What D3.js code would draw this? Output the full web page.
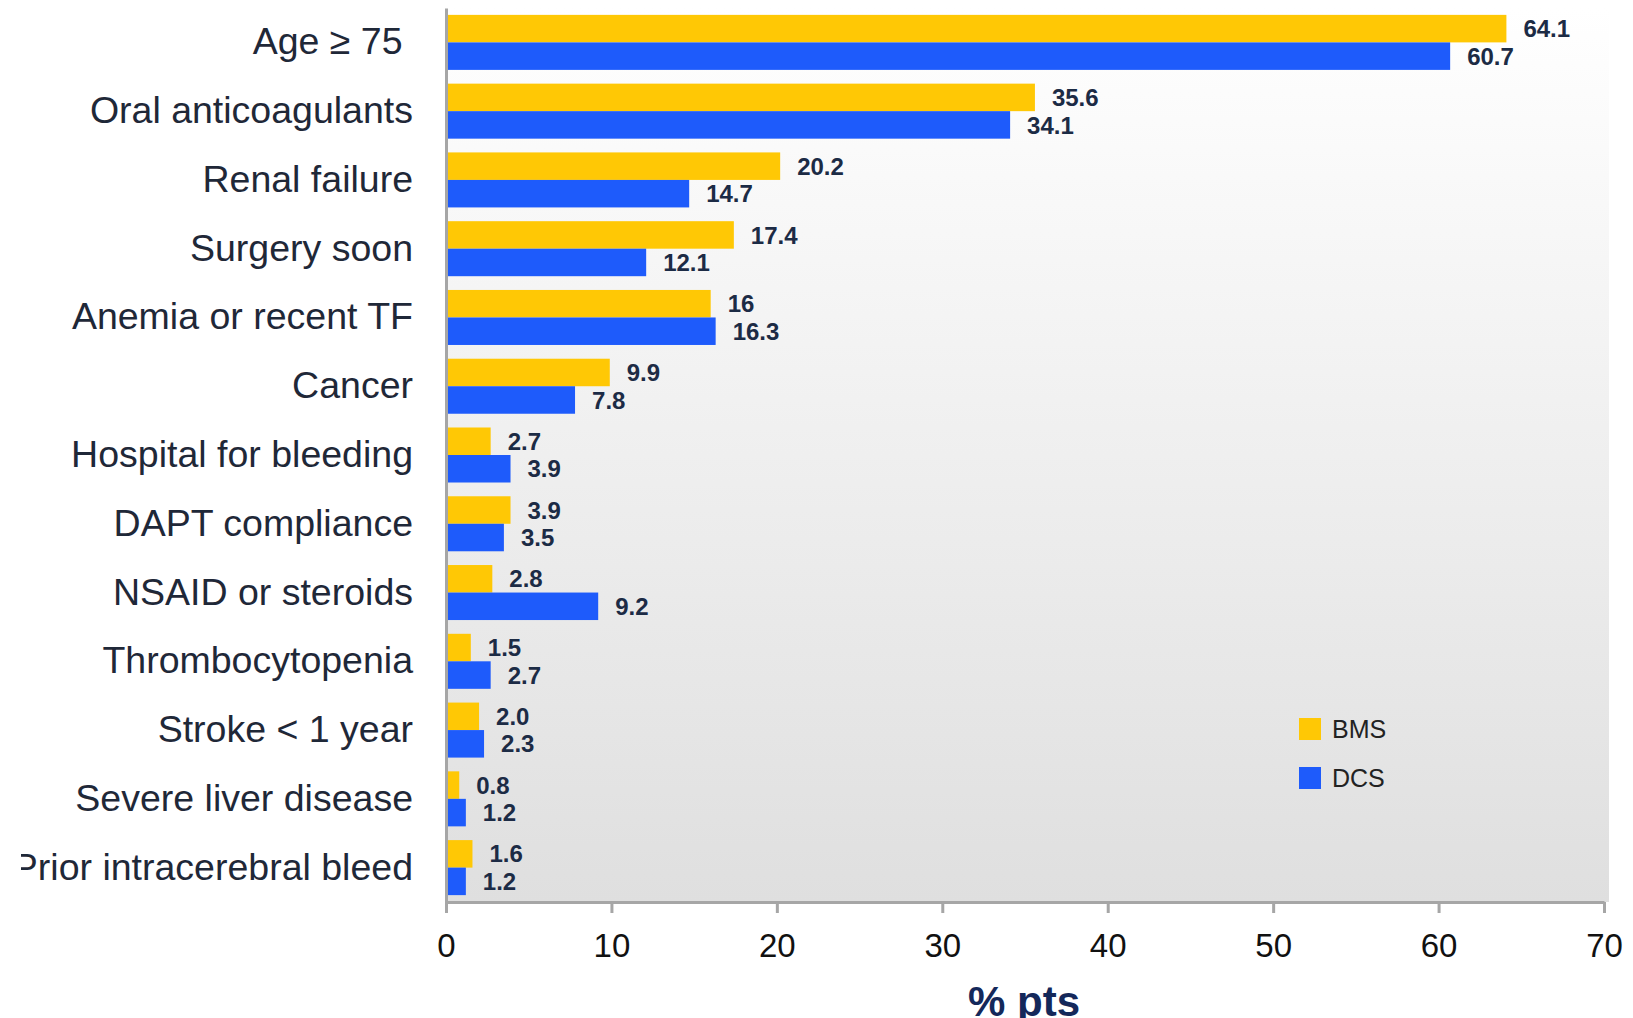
<!DOCTYPE html>
<html>
<head>
<meta charset="utf-8">
<script src="https://cdn.jsdelivr.net/npm/d3@7"></script>
<style>
  html, body { margin: 0; padding: 0; background: #fff; }
  svg { display: block; font-family: "Liberation Sans", Arial, sans-serif; }
</style>
</head>
<body>
<svg id="chart" width="1633" height="1018"></svg>
<script>
var categories = ["Age \u2265 75\u00a0", "Oral anticoagulants", "Renal failure", "Surgery soon",
  "Anemia or recent TF", "Cancer", "Hospital for bleeding", "DAPT compliance",
  "NSAID or steroids", "Thrombocytopenia", "Stroke < 1 year", "Severe liver disease",
  "Prior intracerebral bleed"];
var seriesNames = ["BMS", "DCS"];
var bmsValues = [64.1, 35.6, 20.2, 17.4, 16, 9.9, 2.7, 3.9, 2.8, 1.5, 2.0, 0.8, 1.6];
var dcsValues = [60.7, 34.1, 14.7, 12.1, 16.3, 7.8, 3.9, 3.5, 9.2, 2.7, 2.3, 1.2, 1.2];
var bmsLabels = ["64.1", "35.6", "20.2", "17.4", "16", "9.9", "2.7", "3.9", "2.8", "1.5", "2.0", "0.8", "1.6"];
var dcsLabels = ["60.7", "34.1", "14.7", "12.1", "16.3", "7.8", "3.9", "3.5", "9.2", "2.7", "2.3", "1.2", "1.2"];
var xTicks = [0, 10, 20, 30, 40, 50, 60, 70];
var colours = {BMS: "#ffc805", DCS: "#1e5bfb"};

var svg = d3.select("#chart");
var plotLeft = 446, plotRight = 1604, plotTop = 8, plotBottom = 902;

var x = d3.scaleLinear().domain([0, 70]).range([plotLeft, plotRight]);
var y = d3.scaleBand().domain(categories).range([plotTop, plotBottom])
  .paddingInner(0.2).paddingOuter(0.1);
var ySub = d3.scaleBand().domain(seriesNames).range([0, y.bandwidth()]);

// plot background, white at top fading to grey
var grad = svg.append("defs").append("linearGradient")
  .attr("id", "bg").attr("x1", 0).attr("y1", 0).attr("x2", 0).attr("y2", 1);
grad.append("stop").attr("offset", "0%").attr("stop-color", "#ffffff");
grad.append("stop").attr("offset", "100%").attr("stop-color", "#dfdfdf");
svg.append("rect")
  .attr("x", plotLeft).attr("y", plotTop)
  .attr("width", plotRight - plotLeft + 5).attr("height", plotBottom - plotTop)
  .style("fill", "url(#bg)");

var rows = categories.map(function(c, i){
  return {cat: c, values: [
    {name: "BMS", value: bmsValues[i], label: bmsLabels[i]},
    {name: "DCS", value: dcsValues[i], label: dcsLabels[i]}
  ]};
});

var groups = svg.append("g").selectAll("g")
  .data(rows)
  .enter().append("g")
  .attr("transform", function(d){ return "translate(0," + y(d.cat) + ")"; });

groups.selectAll("rect")
  .data(function(d){ return d.values; })
  .enter().append("rect")
  .attr("x", x(0))
  .attr("y", function(d){ return ySub(d.name); })
  .attr("width", function(d){ return x(d.value) - x(0); })
  .attr("height", ySub.bandwidth())
  .style("fill", function(d){ return colours[d.name]; });

groups.selectAll("text")
  .data(function(d){ return d.values; })
  .enter().append("text")
  .attr("x", function(d){ return x(d.value) + 17; })
  .attr("y", function(d){ return ySub(d.name) + ySub.bandwidth() / 2; })
  .attr("dy", "0.36em")
  .style("font-size", "24px")
  .style("font-weight", "bold")
  .style("fill", "#1c2b45")
  .text(function(d){ return d.label; });

// y axis
var yAxis = svg.append("g")
  .attr("transform", "translate(" + plotLeft + ",0)")
  .call(d3.axisLeft(y).tickSize(0).tickPadding(33));
yAxis.select(".domain").style("stroke", "#a6a6a6").style("stroke-width", 3);
yAxis.selectAll("text")
  .style("font-size", "37.5px")
  .style("fill", "#1f2838")
  .style("font-family", "'Liberation Sans', Arial, sans-serif");

// x axis
var xAxis = svg.append("g")
  .attr("transform", "translate(0," + plotBottom + ")")
  .call(d3.axisBottom(x).tickValues(xTicks).tickSize(11).tickSizeOuter(0).tickPadding(21));
xAxis.select(".domain").style("stroke", "#a6a6a6").style("stroke-width", 3);
xAxis.selectAll(".tick line").style("stroke", "#a6a6a6").style("stroke-width", 3);
xAxis.selectAll("text")
  .style("font-size", "33px")
  .style("fill", "#111")
  .style("font-family", "'Liberation Sans', Arial, sans-serif");

svg.append("text")
  .attr("x", 1024).attr("y", 1016)
  .attr("text-anchor", "middle")
  .style("font-size", "42px")
  .style("font-weight", "bold")
  .style("fill", "#14285a")
  .text("% pts");

// legend
var legend = svg.append("g").selectAll("g")
  .data(seriesNames)
  .enter().append("g")
  .attr("transform", function(d, i){ return "translate(1299," + (718 + i * 49) + ")"; });
legend.append("rect")
  .attr("width", 22).attr("height", 22)
  .style("fill", function(d){ return colours[d]; });
legend.append("text")
  .attr("x", 33).attr("y", 11).attr("dy", "0.36em")
  .style("font-size", "25px")
  .style("fill", "#222")
  .text(function(d){ return d; });

// the source image is cropped on the left edge
svg.append("rect").attr("x", 0).attr("y", 0).attr("width", 21).attr("height", 1018).style("fill", "#fff");
</script>
</body>
</html>
